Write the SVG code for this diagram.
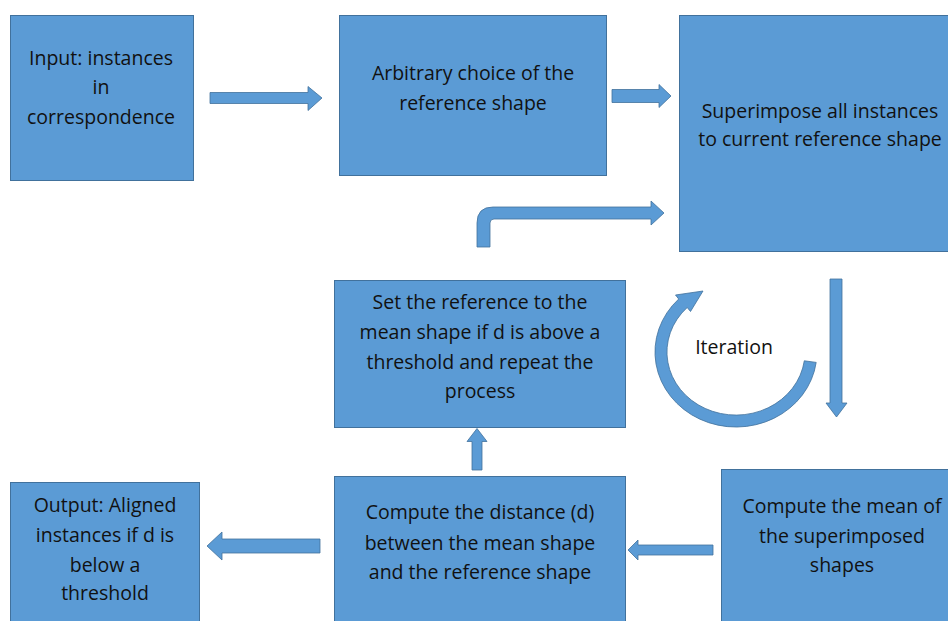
<svg xmlns="http://www.w3.org/2000/svg" width="948" height="621" viewBox="0 0 948 621">
<style>
.box{fill:#5B9BD5;stroke:#41719C;stroke-width:1}
.arr{fill:#5B9BD5;stroke:#41719C;stroke-width:0.8}
text{font-family:"Open Sans","Liberation Sans",sans-serif;font-size:19.5px;fill:#111111;text-anchor:middle}
</style>
<rect width="948" height="621" fill="#ffffff"/>
<g id="input">
<rect class="box" x="10.5" y="15.5" width="183" height="165"/>
<text x="101" y="65">Input: instances</text>
<text x="101" y="94">in</text>
<text x="101" y="124">correspondence</text>
</g>
<g id="arbitrary">
<rect class="box" x="339.5" y="15.5" width="267" height="160"/>
<text x="473" y="80">Arbitrary choice of the</text>
<text x="473" y="110">reference shape</text>
</g>
<g id="superimpose">
<rect class="box" x="679.5" y="15.5" width="285" height="236"/>
<text x="820" y="118">Superimpose all instances</text>
<text x="820" y="146">to current reference shape</text>
</g>
<g id="setref">
<rect class="box" x="334.5" y="280.5" width="291" height="147"/>
<text x="480" y="309">Set the reference to the</text>
<text x="480" y="339">mean shape if d is above a</text>
<text x="480" y="369">threshold and repeat the</text>
<text x="480" y="398">process</text>
</g>
<g id="mean">
<rect class="box" x="721.5" y="469.5" width="245" height="160"/>
<text x="842" y="513">Compute the mean of</text>
<text x="842" y="543">the superimposed</text>
<text x="842" y="572">shapes</text>
</g>
<g id="distance">
<rect class="box" x="334.5" y="476.5" width="291" height="150"/>
<text x="480" y="519">Compute the distance (d)</text>
<text x="480" y="550">between the mean shape</text>
<text x="480" y="579">and the reference shape</text>
</g>
<g id="output">
<rect class="box" x="10.5" y="482.5" width="189" height="150"/>
<text x="105" y="512">Output: Aligned</text>
<text x="105" y="542">instances if d is</text>
<text x="105" y="572">below a</text>
<text x="105" y="600">threshold</text>
</g>
<g id="iteration">
<path class="arr" d="M816.2,362.4 A81,75 0 1 1 678.7,299 L675.5,295 L703,291 L690.5,311.5 L687.2,307.5 A69,63 0 1 0 804.3,360.8 Z"/>
<text x="734" y="354">Iteration</text>
</g>
<g id="connectors">
<path class="arr" d="M210,92.5 L308,92.5 L308,86.5 L322,98 L308,110.5 L308,103.5 L210,103.5 Z"/>
<path class="arr" d="M612,89.5 L659,89.5 L659,84.5 L671,96 L659,107.5 L659,102.5 L612,102.5 Z"/>
<path class="arr" d="M477,247 L477,223 Q477,207 493,207 L651,207 L651,201 L664,213 L651,225 L651,219 L494,219 Q490,219 490,223 L490,247 Z"/>
<path class="arr" d="M830,279 L842,279 L842,403 L847,403 L836.5,417 L826,403 L830,403 Z"/>
<path class="arr" d="M713,545 L638,545 L638,540 L628,550 L638,560 L638,555 L713,555 Z"/>
<path class="arr" d="M320,539 L222,539 L222,532 L207,546 L222,560 L222,553 L320,553 Z"/>
<path class="arr" d="M472,470 L472,441.5 L467,441.5 L477,428.5 L487,441.5 L482,441.5 L482,470 Z"/>
</g>
</svg>
